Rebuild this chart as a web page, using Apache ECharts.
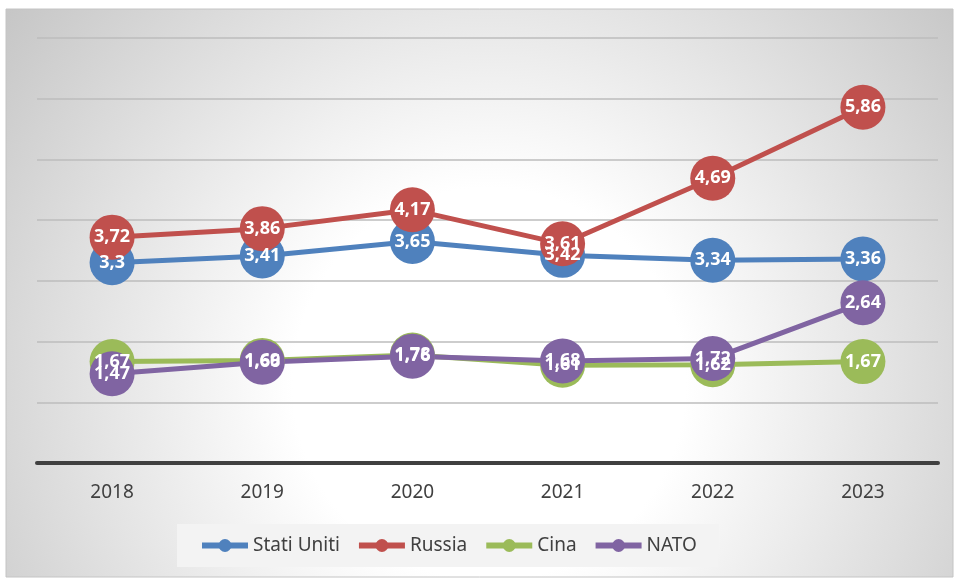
<!DOCTYPE html>
<html>
<head>
<meta charset="utf-8">
<script src="https://cdn.jsdelivr.net/npm/echarts@6/dist/echarts.min.js"></script>
<style>
  html, body { margin: 0; padding: 0; background: #fff; }
  #chart { width: 958px; height: 580px; }
</style>
</head>
<body>
<div id="chart"></div>
<script>
  // anni e valori
  var anni = ['2018', '2019', '2020', '2021', '2022', '2023'];
  var statiUniti = [3.3, 3.41, 3.65, 3.42, 3.34, 3.36];
  var russia = [3.72, 3.86, 4.17, 3.61, 4.69, 5.86];
  var cina = [1.67, 1.69, 1.78, 1.61, 1.62, 1.67];
  var nato = [1.47, 1.66, 1.76, 1.68, 1.72, 2.64];

  var myChart = echarts.init(document.getElementById('chart'));

  function serie(nome, dati, colore) {
    return {
      name: nome,
      type: 'line',
      data: dati,
      symbol: 'circle',
      symbolSize: 45,
      lineStyle: { width: 5, color: colore },
      itemStyle: { color: colore },
      label: {
        show: true,
        position: 'inside',
        color: '#fff',
        fontFamily: 'Open Sans',
        fontWeight: 'bold',
        fontSize: 18,
        formatter: function (p) { return String(p.value).replace('.', ','); }
      },
      emphasis: { disabled: true },
      animation: false
    };
  }

  var option = {
    backgroundColor: '#fff',
    graphic: [{
      type: 'rect',
      z: -10,
      shape: { x: 6, y: 9, width: 947, height: 568 },
      style: {
        fill: {
          type: 'radial', x: 0.51, y: 0.66, r: 1.15,
          colorStops: [
            { offset: 0, color: '#ffffff' },
            { offset: 0.3, color: '#ffffff' },
            { offset: 1, color: '#c0c0c0' }
          ]
        },
        stroke: '#c4c4c4',
        lineWidth: 1
      }
    }],
    grid: { left: 37, right: 20, top: 38, bottom: 117 },
    legend: {
      left: 177,
      top: 524,
      width: 505,
      height: 46,
      padding: [12, 22],
      backgroundColor: '#f3f3f3',
      itemWidth: 46,
      itemHeight: 16,
      itemGap: 16,
      lineStyle: { width: 6 },
      textStyle: { color: '#404040', fontSize: 19, fontFamily: 'Liberation Sans Narrow, Noto Sans' },
      data: ['Stati Uniti', 'Russia', 'Cina', 'NATO']
    },
    xAxis: {
      type: 'category',
      data: anni,
      axisLine: { lineStyle: { color: '#404040', width: 4 } },
      axisTick: { show: false },
      axisLabel: { color: '#404040', fontSize: 19, margin: 20, fontFamily: 'Liberation Sans Narrow, Noto Sans' }
    },
    yAxis: {
      type: 'value',
      min: 0,
      max: 7,
      interval: 1,
      axisLabel: { show: false },
      axisLine: { show: false },
      axisTick: { show: false },
      splitLine: { lineStyle: { color: '#bcbcbc', width: 1.5 } }
    },
    series: [
      serie('Stati Uniti', statiUniti, '#4f81bd'),
      serie('Russia', russia, '#c0504d'),
      serie('Cina', cina, '#9bbb59'),
      serie('NATO', nato, '#8064a2')
    ]
  };
  myChart.setOption(option);
  window.addEventListener('resize', function () { myChart.resize(); });
</script>
</body>
</html>
